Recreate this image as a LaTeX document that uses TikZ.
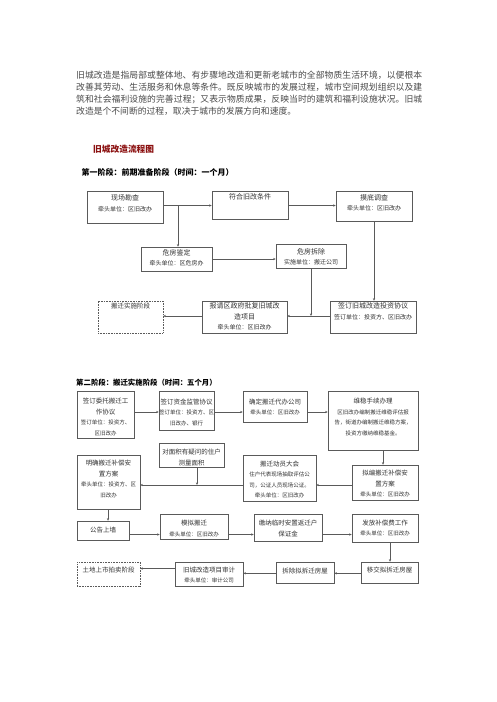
\documentclass[tikz,border=0pt]{standalone}
\usepackage{fontspec}
\setmainfont{Noto Sans CJK SC}
\usetikzlibrary{arrows.meta,fit}
\XeTeXlinebreaklocale "zh"
\XeTeXlinebreakskip=0pt plus 1.5pt
\definecolor{paratext}{HTML}{4A4A4A}
\definecolor{boxtext}{HTML}{333333}
\definecolor{boxline}{HTML}{5A5A5A}
\definecolor{titlered}{HTML}{8B1010}
\newcommand\mt[1]{{\fontsize{7}{10.5}\selectfont #1}}
\newcommand\mtt[1]{{\fontsize{6.5}{10.3}\selectfont #1}}
\newcommand\st[1]{{\fontsize{6}{10.5}\selectfont #1}}
\newcommand\sst[1]{{\fontsize{5.5}{10.3}\selectfont #1}}
\tikzset{
  boxst/.style={draw=boxline, line width=0.5pt, inner sep=0pt, rectangle},
  dashbox/.style={dash pattern=on 0.8pt off 0.8pt},
  txt/.style={text=boxtext, align=center, inner sep=0pt, font=\fontsize{7}{10.5}\selectfont},
  conn/.style={draw=boxline, line width=0.5pt},
  arr/.style={conn, -{Stealth[length=2.6pt,width=2.2pt]}}
}
% #1 extra style, #2 name, #3 corner, #4 corner, #5 text centre y, #6 text
\newcommand\flowbox[6][]{%
  \node[boxst,#1,fit={(#3) (#4)}] (#2) {};
  \node[txt] (#2-t) at (#2.center |- 0,#5) {#6};}
\begin{document}
\begin{tikzpicture}[x=1pt,y=-1pt]
\useasboundingbox[fill=white] (0,0) rectangle (496,702);

% paragraph
\node[anchor=north west, text width=346pt, align=justify, inner sep=0pt,
      text=paratext, font=\fontsize{8.8}{11.8}\selectfont] (para) at (76,71.2)
 {旧城改造是指局部或整体地、有步骤地改造和更新老城市的全部物质生活环境，以便根本\linebreak
  改善其劳动、生活服务和休息等条件。既反映城市的发展过程，城市空间规划组织以及建\linebreak
  筑和社会福利设施的完善过程；又表示物质成果，反映当时的建筑和福利设施状况。旧城\linebreak
  改造是个不间断的过程，取决于城市的发展方向和速度。};

\node[anchor=west, inner sep=0pt, text=titlered, font=\fontsize{8.7}{10}\selectfont\bfseries] (title) at (93,149) {旧城改造流程图};

% ---------- stage 1 ----------
\node[anchor=west, inner sep=0pt, text=black, font=\fontsize{8}{10}\selectfont\bfseries] (h1) at (81.5,172.7) {第一阶段：前期准备阶段（时间：一个月）};

\flowbox{s1a}{87,191}{163,223}{203.2}{\mt{现场勘查}\\\st{牵头单位：区旧改办}}
\flowbox{s1b}{212,191}{288,219}{197.3}{\mt{符合旧改条件}}
\flowbox{s1c}{336,191}{412,221}{203}{\mt{摸底调查}\\\st{牵头单位：区旧改办}}
\flowbox{s1d}{141,247}{212,271}{258}{\mt{危房鉴定}\\\st{牵头单位：区危房办}}
\flowbox{s1e}{276,244}{346,268}{256.8}{\mt{危房拆除}\\\st{实施单位：搬迁公司}}
\flowbox{s1f}{330,301}{416,333}{311.3}{\mt{签订旧城改造投资协议}\\\st{签订单位：投资方、区旧改办}}
\flowbox{s1g}{202,301}{287,333}{316.3}{\mt{报请区政府批复旧城改}\\\mt{造项目}\\\st{牵头单位：区旧改办}}
\flowbox[dashbox]{s1h}{98,301}{163,333}{306}{\mtt{搬迁实施阶段}}

\coordinate (j1) at (178,205.5);
\coordinate (j3) at (311,316);
\draw[arr] (s1a.east |- j1) -- (s1b.west |- j1);
\draw[arr] (s1b.east |- j1) -- (s1c.west |- j1);
\draw[arr] (j1) -- (j1 |- s1d.north);
\draw[arr] (s1c.south) -- (s1c.south |- s1f.north);
\draw[arr] (s1d.east |- 0,259) -- (s1e.west |- 0,259);
\draw[arr] (s1e.south -| j3) -- (j3);
\draw[arr] (s1f.west |- j3) -- (s1g.east |- j3);
\draw[arr] (s1g.west |- j3) -- (s1h.east |- j3);

% ---------- stage 2 ----------
\node[anchor=west, inner sep=0pt, text=black, font=\fontsize{7.4}{10}\selectfont\bfseries] (h2) at (76,382.7) {第二阶段：搬迁实施阶段（时间：五个月）};

\flowbox{s2a}{77,391}{134,438}{417}{\mtt{签订委托搬迁工}\\\mtt{作协议}\\\sst{签订单位：投资方、}\\\sst{区旧改办}}
\flowbox{s2b}{159,391}{214,430}{412}{\mtt{签订资金监管协议}\\\sst{签订单位：投资方、区}\\\sst{旧改办、银行}}
\flowbox{s2c}{243,391}{307,422}{406.9}{\mtt{确定搬迁代办公司}\\\sst{牵头单位：区旧改办}}
\flowbox{s2d}{328,391}{418,450}{417}{\mtt{维稳手续办理}\\\sst{区旧改办编制搬迁维稳评估报}\\\sst{告，街道办编制搬迁维稳方案，}\\\sst{投资方缴纳维稳基金。}}

\flowbox{s2e}{77,455}{140,509}{479.2}{\mtt{明确搬迁补偿安}\\\mtt{置方案}\\\sst{牵头单位：投资方、区}\\\sst{旧改办}}
\flowbox{s2f}{159,443}{224,467}{457.5}{\mtt{对面积有疑问的住户}\\\mtt{测量面积}}
\flowbox{s2g}{243,455}{316,501}{479.7}{\mtt{搬迁动员大会}\\\sst{住户代表现场抽取评估公}\\\sst{司，公证人员现场公证。}\\\sst{牵头单位：区旧改办}}
\flowbox{s2h}{352,465}{418,500}{483.9}{\mtt{拟编搬迁补偿安}\\\mtt{置方案}\\\sst{牵头单位：区旧改办}}

\flowbox{s3a}{77,521}{129,540}{530.5}{\mtt{公告上墙}}
\flowbox{s3b}{160,514}{228,539}{528.3}{\mtt{模拟搬迁}\\\sst{牵头单位：区旧改办}}
\flowbox{s3c}{254,514}{322,541}{528.7}{\mtt{缴纳临时安置返迁户}\\\mtt{保证金}}
\flowbox{s3d}{352,514}{418,542}{528.2}{\mtt{发放补偿费工作}\\\sst{牵头单位：区旧改办}}

\flowbox[dashbox]{s4a}{77,562}{140,586}{570}{\mtt{土地上市拍卖阶段}}
\flowbox{s4b}{175,562}{243,586}{574.8}{\mtt{旧城改造项目审计}\\\sst{牵头单位：审计公司}}
\flowbox{s4c}{276,562}{334,583}{570.7}{\mtt{拆除拟拆迁房屋}}
\flowbox{s4d}{361,562}{418,583}{570.5}{\mtt{移交拟拆迁房屋}}

\coordinate (k1) at (0,412);
\coordinate (k2) at (383,450);
\coordinate (k3) at (0,485);
\coordinate (k4) at (197,485);
\coordinate (k5) at (108,509);
\coordinate (k6) at (0,534.5);
\coordinate (k7) at (390,542);
\coordinate (k8) at (0,573.3);
\coordinate (k9) at (0,568.5);

\draw[arr] (s2a.east |- k1) -- (s2b.west |- k1);
\draw[arr] (s2b.east |- k1) -- (s2c.west |- k1);
\draw[arr] (s2c.east |- k1) -- (s2d.west |- k1);
\draw[arr] (k2) -- (k2 |- s2h.north);
\draw[arr] (s2h.west |- k3) -- (s2g.east |- k3);
\draw[arr] (s2g.west |- k3) -- (s2e.east |- k3);
\draw[arr] (k4 |- s2f.south) -- (k4);
\draw[arr] (k5) -- (k5 |- s3a.north);
\draw[arr] (s3a.east |- k6) -- (s3b.west |- k6);
\draw[arr] (s3b.east |- k6) -- (s3c.west |- k6);
\draw[arr] (s3c.east |- k6) -- (s3d.west |- k6);
\draw[arr] (k7) -- (k7 |- s4d.north);
\draw[arr] (s4d.west |- k8) -- (s4c.east |- k8);
\draw[arr] (s4c.west |- k8) -- (s4b.east |- k8);
\draw[arr] (s4b.west |- k9) -- (s4a.east |- k9);
\end{tikzpicture}
\end{document}
